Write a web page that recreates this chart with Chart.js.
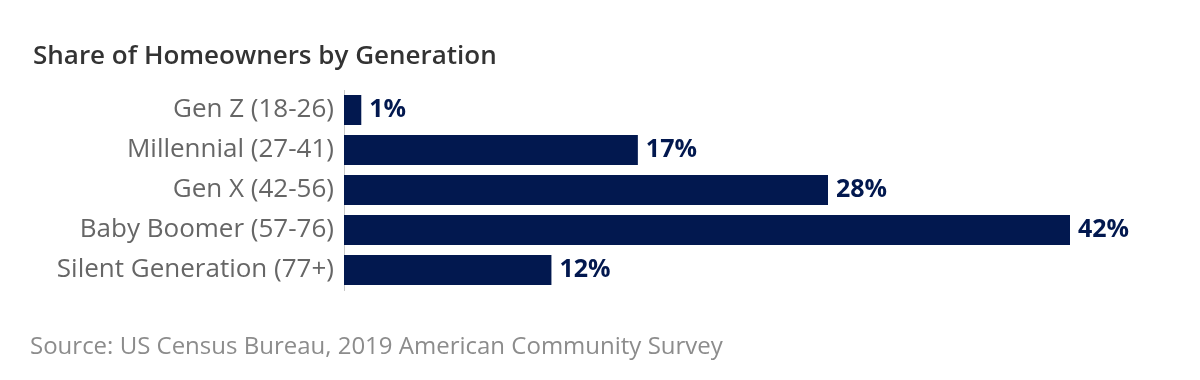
<!DOCTYPE html>
<html>
<head>
<meta charset="utf-8">
<script src="https://cdn.jsdelivr.net/npm/chart.js@4.4.0/dist/chart.umd.min.js"></script>
<style>
  html, body { margin: 0; padding: 0; background: #fff; }
  #wrap { width: 1200px; height: 380px; position: relative; }
</style>
</head>
<body>
<div id="wrap"><canvas id="chart" width="1200" height="380"></canvas></div>
<script>
"use strict";
var generations = ["Gen Z (18-26)", "Millennial (27-41)", "Gen X (42-56)", "Baby Boomer (57-76)", "Silent Generation (77+)"];
var shares = [1, 17, 28, 42, 12];
var titleText = "Share of Homeowners by Generation";
var sourceText = "Source: US Census Bureau, 2019 American Community Survey";

(function () {
    var navy = "#02184f";
    var font = "'Open Sans', 'Noto Sans', sans-serif";

    // value labels after each bar
    var valueLabels = {
        id: "valueLabels",
        afterDatasetsDraw: function (chart) {
            var ctx = chart.ctx;
            var meta = chart.getDatasetMeta(0);
            ctx.save();
            ctx.fillStyle = navy;
            ctx.font = "bold 25px " + font;
            ctx.textAlign = "left";
            ctx.textBaseline = "middle";
            meta.data.forEach(function (bar, i) {
                ctx.fillText(shares[i] + "%", bar.x + 8, bar.y);
            });
            ctx.restore();
        }
    };

    // title on top, source at bottom
    var captions = {
        id: "captions",
        afterDraw: function (chart) {
            var ctx = chart.ctx;
            ctx.save();
            ctx.textAlign = "left";
            ctx.textBaseline = "alphabetic";
            ctx.fillStyle = "#333333";
            ctx.font = "600 26px " + font;
            ctx.fillText(titleText, 33, 64);
            ctx.fillStyle = "#8c8c8c";
            ctx.font = "24px " + font;
            ctx.fillText(sourceText, 30, 354);
            ctx.restore();
        }
    };

    var ctx = document.getElementById("chart").getContext("2d");
    var chart = new Chart(ctx, {
        type: "bar",
        data: {
            labels: generations,
            datasets: [{
                data: shares,
                backgroundColor: navy,
                borderWidth: 0,
                categoryPercentage: 0.75,
                barPercentage: 1
            }]
        },
        options: {
            indexAxis: "y",
            responsive: false,
            animation: false,
            layout: { padding: { top: 90, bottom: 90, left: 0, right: 130 } },
            plugins: {
                legend: { display: false },
                tooltip: { enabled: false },
                title: { display: false }
            },
            scales: {
                x: {
                    min: 0,
                    max: 42,
                    display: false,
                    grid: { display: false }
                },
                y: {
                    grid: { display: false, drawTicks: false },
                    border: { display: true, color: "#c8c8c8", dash: [4, 4], width: 1 },
                    ticks: {
                        color: "#666666",
                        padding: 10,
                        font: { family: font, size: 26 }
                    },
                    afterFit: function (scale) {
                        scale.width = 344;
                    }
                }
            }
        },
        plugins: [valueLabels, captions]
    });
})();
</script>
</body>
</html>
